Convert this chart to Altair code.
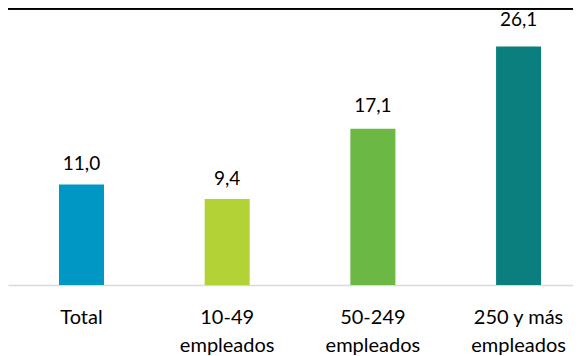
import altair as alt
import pandas as pd

categories = ["Total", "10-49 empleados", "50-249 empleados", "250 y más empleados"]
values = [11.0, 9.4, 17.1, 26.1]
labels = ["11,0", "9,4", "17,1", "26,1"]
colors = ["#0097C4", "#B2D235", "#6BB844", "#0A7F7D"]

df = pd.DataFrame({"cat": categories, "val": values, "lab": labels})

FONT = "Lato"
W = 565
H = 277

xscale = alt.Scale(paddingInner=0.691, paddingOuter=0.2845, align=0.615)

x = alt.X(
    "cat:N",
    sort=categories,
    title=None,
    scale=xscale,
    axis=alt.Axis(
        labelAngle=0,
        labelFont=FONT,
        labelFontSize=20,
        labelColor="#000000",
        labelPadding=22,
        labelLineHeight=28,
        ticks=False,
        domainColor="#D9D9D9",
        domainWidth=1.5,
        grid=False,
        labelExpr="indexof(datum.label, ' empleados') > 0 ? [replace(datum.label, ' empleados', ''), 'empleados'] : datum.label",
    ),
)

bars = alt.Chart(df).mark_bar().encode(
    x=x,
    y=alt.Y("val:Q", scale=alt.Scale(domain=[0, 30.3], nice=False, zero=True), axis=None),
    color=alt.Color("cat:N", sort=categories, scale=alt.Scale(domain=categories, range=colors), legend=None),
)

text = alt.Chart(df).mark_text(
    font=FONT, fontSize=19, color="#000000", baseline="alphabetic", align="center"
).encode(
    x=alt.X("cat:N", sort=categories),
    y=alt.Y("val:Q", scale=alt.Scale(domain=[-1.10, 28.0], nice=False, zero=False), axis=None),
    text="lab:N",
)

top_rule = alt.Chart(df).mark_rule(color="#000000", strokeWidth=3).encode(
    x=alt.value(0), x2=alt.value(W), y=alt.value(0)
)

chart = (
    alt.layer(bars, text, top_rule)
    .resolve_scale(y="independent")
    .properties(
        width=W,
        height=H,
        autosize=alt.AutoSizeParams(type="none"),
        padding={"left": 0, "top": 0, "right": 0, "bottom": 71},
    )
    .configure_view(stroke=None)
)

chart.save("out.html", embed_options={"renderer": "svg", "actions": False})
